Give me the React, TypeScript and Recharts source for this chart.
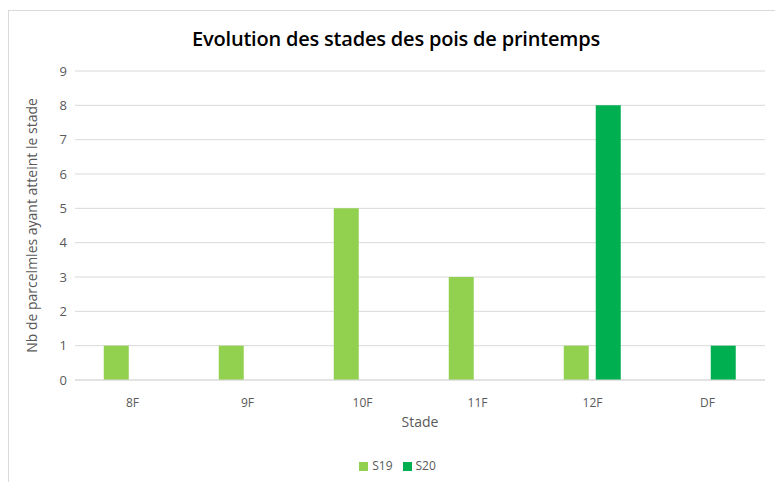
import { Bar, BarChart, CartesianGrid, Label, Legend, XAxis, YAxis } from 'recharts';

const stades = ['8F', '9F', '10F', '11F', '12F', 'DF'];
const s19 = [1, 1, 5, 3, 1, 0];
const s20 = [0, 0, 0, 0, 8, 1];
const yTicks = [0, 1, 2, 3, 4, 5, 6, 7, 8, 9];

const data = stades.map((stade, i) => ({ stade, S19: s19[i], S20: s20[i] }));

const font = 'Open Sans, Liberation Sans, sans-serif';

export default function App() {
  return (
    <div style={{ position: 'absolute', left: 0, top: 0, width: 775, height: 482, background: '#fff' }}>
      <div
        style={{
          position: 'absolute',
          left: 8,
          top: 10,
          width: 780,
          height: 480,
          border: '1px solid #d9d9d9',
        }}
      />
      <div
        style={{
          position: 'absolute',
          left: 0,
          top: 25,
          width: 792,
          textAlign: 'center',
          fontFamily: font,
          fontSize: 20,
          fontWeight: 600,
          color: '#000',
          letterSpacing: -0.2,
        }}
      >
        Evolution des stades des pois de printemps
      </div>
      <BarChart
        width={775}
        height={482}
        data={data}
        margin={{ top: 71, right: 10, bottom: 7, left: 20 }}
        barCategoryGap='25%'
        barGap={7}
        style={{ position: 'absolute', left: 0, top: 0, fontFamily: font }}
      >
        <CartesianGrid vertical={false} stroke='#d9d9d9' />
        <XAxis
          dataKey='stade'
          tickLine={false}
          axisLine={{ stroke: '#d9d9d9' }}
          tick={{ fill: '#595959', fontSize: 12 }}
          tickMargin={12}
          height={78}
        >
          <Label value='Stade' position='insideTop' offset={37} fill='#595959' fontSize={14} />
        </XAxis>
        <YAxis
          domain={[0, 9]}
          ticks={yTicks}
          interval={0}
          tickLine={false}
          axisLine={false}
          tick={{ fill: '#595959', fontSize: 13 }}
          width={55}
        >
          <Label
            value='Nb de parcelmles ayant atteint le stade'
            angle={-90}
            position='insideLeft'
            offset={12}
            fill='#595959'
            fontSize={14}
            style={{ textAnchor: 'middle' }}
          />
        </YAxis>
        <Legend
          verticalAlign='bottom'
          align='center'
          iconType='square'
          iconSize={9}
          wrapperStyle={{ fontSize: 12, color: '#595959', bottom: 8, left: 30 }}
          formatter={(v) => <span style={{ color: '#595959' }}>{v}</span>}
        />
        <Bar dataKey='S19' fill='#92D050' isAnimationActive={false} />
        <Bar dataKey='S20' fill='#00B050' isAnimationActive={false} />
      </BarChart>
    </div>
  );
}
